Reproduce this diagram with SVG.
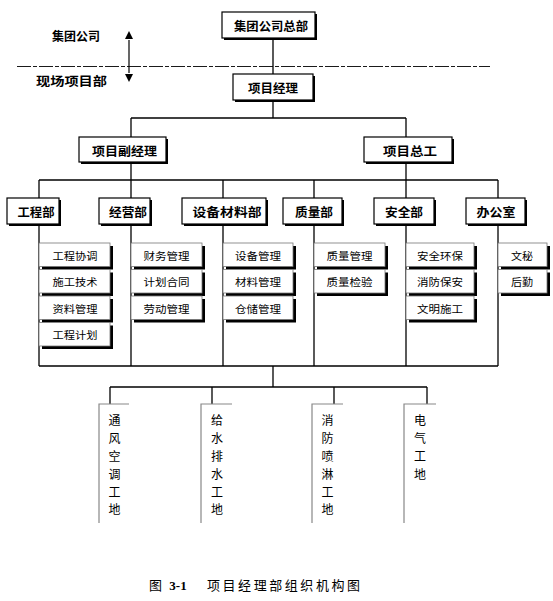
<svg xmlns="http://www.w3.org/2000/svg" width="553" height="601" viewBox="0 0 553 601">
<defs>
<style>
.bg{fill:#fff}
.box{fill:#fff;stroke:#000;stroke-width:1.2}
.sh{fill:#000}
.sub{fill:#fff;stroke:#777;stroke-width:0.8}
.ln{stroke:#000;stroke-width:1.3;fill:none}
.site{stroke:#888;stroke-width:1.2;fill:none}
.dash{stroke:#000;stroke-width:0.9;fill:none;stroke-dasharray:14 2 4 2}
text{font-family:"Noto Sans CJK SC","Noto Sans",sans-serif;fill:#000;dominant-baseline:central;text-anchor:middle}
.t1{font-size:12px;font-weight:bold}
.t2{font-size:10.5px}
.t3{font-size:12px}
.cap{font-family:"Liberation Serif","Noto Sans CJK SC",serif;font-size:13px}
</style>
<marker id="ah" viewBox="0 0 10 10" refX="10" refY="5" markerWidth="7" markerHeight="7" orient="auto" markerUnits="userSpaceOnUse">
<path d="M0,0 L10,5 L0,10 z" fill="#000"/>
</marker>
</defs>
<rect class="bg" x="0" y="0" width="553" height="601"/>

<g id="scope">
<text class="t1" x="76" y="35" font-size="11" textLength="48" lengthAdjust="spacingAndGlyphs">集团公司</text>
<text class="t1" x="71.5" y="80" font-size="11" textLength="71" lengthAdjust="spacingAndGlyphs">现场项目部</text>
<line class="dash" x1="17" y1="66.5" x2="490" y2="66.5"/>
<line x1="129" y1="40" x2="129" y2="73" stroke="#000" stroke-width="1.2"/>
<path d="M125,39 L133,39 L129,31 z" fill="#000"/>
<path d="M125,74 L133,74 L129,82 z" fill="#000"/>
</g>

<g id="connectors">
<line class="ln" x1="273" y1="38" x2="273" y2="118"/>
<line class="ln" x1="131" y1="118" x2="406" y2="118"/>
<line class="ln" x1="131" y1="118" x2="131" y2="180"/>
<line class="ln" x1="406" y1="118" x2="406" y2="180"/>
<line class="ln" x1="39" y1="180" x2="498" y2="180"/>
<line class="ln" x1="39" y1="180" x2="39" y2="366"/>
<line class="ln" x1="131" y1="180" x2="131" y2="366"/>
<line class="ln" x1="223" y1="180" x2="223" y2="366"/>
<line class="ln" x1="314" y1="180" x2="314" y2="366"/>
<line class="ln" x1="406" y1="180" x2="406" y2="366"/>
<line class="ln" x1="498" y1="180" x2="498" y2="366"/>
<line class="ln" x1="39" y1="366" x2="498" y2="366"/>
<line class="ln" x1="273" y1="366" x2="273" y2="387"/>
<line class="ln" x1="110" y1="387" x2="427" y2="387"/>
<line class="ln" x1="110" y1="387" x2="110" y2="404"/>
<line class="ln" x1="212" y1="387" x2="212" y2="404"/>
<line class="ln" x1="334" y1="387" x2="334" y2="404"/>
<line class="ln" x1="427" y1="387" x2="427" y2="404"/>
</g>

<g id="hq">
<rect class="sh" x="224" y="14" width="93" height="26"/>
<rect class="box" x="222" y="12" width="93" height="26"/>
<text class="t1" x="271" y="25" font-size="11" font-weight="normal" textLength="74" lengthAdjust="spacingAndGlyphs" style="font-weight:600">集团公司总部</text>
</g>
<g id="pm">
<rect class="sh" x="235" y="76" width="80" height="26"/>
<rect class="box" x="233" y="74" width="80" height="26"/>
<text class="t1" x="273" y="87" textLength="50" lengthAdjust="spacingAndGlyphs">项目经理</text>
</g>
<g id="dpm">
<rect class="sh" x="81" y="139" width="87" height="25"/>
<rect class="box" x="79" y="137" width="87" height="25"/>
<text class="t1" x="124.5" y="150" textLength="65" lengthAdjust="spacingAndGlyphs">项目副经理</text>
</g>
<g id="ce">
<rect class="sh" x="366" y="139" width="88" height="25"/>
<rect class="box" x="364" y="137" width="88" height="25"/>
<text class="t1" x="410" y="150" textLength="54" lengthAdjust="spacingAndGlyphs">项目总工</text>
</g>

<g id="d1">
<rect class="sh" x="9" y="200" width="52" height="26"/>
<rect class="box" x="7" y="198" width="52" height="26"/>
<text class="t1" x="36" y="211" textLength="37" lengthAdjust="spacingAndGlyphs">工程部</text>
</g>
<g id="d2">
<rect class="sh" x="101" y="200" width="51" height="26"/>
<rect class="box" x="99" y="198" width="51" height="26"/>
<text class="t1" x="128" y="211" textLength="38" lengthAdjust="spacingAndGlyphs">经营部</text>
</g>
<g id="d3">
<rect class="sh" x="184" y="200" width="84" height="26"/>
<rect class="box" x="182" y="198" width="84" height="26"/>
<text class="t1" x="227" y="211" textLength="69" lengthAdjust="spacingAndGlyphs">设备材料部</text>
</g>
<g id="d4">
<rect class="sh" x="285" y="200" width="59" height="26"/>
<rect class="box" x="283" y="198" width="59" height="26"/>
<text class="t1" x="314" y="211" textLength="38" lengthAdjust="spacingAndGlyphs">质量部</text>
</g>
<g id="d5">
<rect class="sh" x="376" y="200" width="60" height="26"/>
<rect class="box" x="374" y="198" width="60" height="26"/>
<text class="t1" x="404" y="211" textLength="38" lengthAdjust="spacingAndGlyphs">安全部</text>
</g>
<g id="d6">
<rect class="sh" x="468" y="200" width="59" height="26"/>
<rect class="box" x="466" y="198" width="59" height="26"/>
<text class="t1" x="496" y="211" textLength="39" lengthAdjust="spacingAndGlyphs">办公室</text>
</g>

<g id="s1">
<rect class="sh" x="42" y="246" width="71" height="23.5"/><rect class="sub" x="39" y="243" width="71" height="23.5"/><text class="t2" x="75" y="255" textLength="45" lengthAdjust="spacingAndGlyphs">工程协调</text>
<rect class="sh" x="42" y="272.5" width="71" height="23.5"/><rect class="sub" x="39" y="269.5" width="71" height="23.5"/><text class="t2" x="75" y="281.5" textLength="45" lengthAdjust="spacingAndGlyphs">施工技术</text>
<rect class="sh" x="42" y="299" width="71" height="23.5"/><rect class="sub" x="39" y="296" width="71" height="23.5"/><text class="t2" x="75" y="308" textLength="45" lengthAdjust="spacingAndGlyphs">资料管理</text>
<rect class="sh" x="42" y="325.5" width="71" height="23.5"/><rect class="sub" x="39" y="322.5" width="71" height="23.5"/><text class="t2" x="75" y="334.5" textLength="45" lengthAdjust="spacingAndGlyphs">工程计划</text>
</g>
<g id="s2">
<rect class="sh" x="134" y="246" width="71" height="23.5"/><rect class="sub" x="131" y="243" width="71" height="23.5"/><text class="t2" x="166.5" y="255" textLength="46" lengthAdjust="spacingAndGlyphs">财务管理</text>
<rect class="sh" x="134" y="272.5" width="71" height="23.5"/><rect class="sub" x="131" y="269.5" width="71" height="23.5"/><text class="t2" x="166.5" y="281.5" textLength="46" lengthAdjust="spacingAndGlyphs">计划合同</text>
<rect class="sh" x="134" y="299" width="71" height="23.5"/><rect class="sub" x="131" y="296" width="71" height="23.5"/><text class="t2" x="166.5" y="308" textLength="46" lengthAdjust="spacingAndGlyphs">劳动管理</text>
</g>
<g id="s3">
<rect class="sh" x="226" y="246" width="70" height="23.5"/><rect class="sub" x="223" y="243" width="70" height="23.5"/><text class="t2" x="258" y="255" textLength="46" lengthAdjust="spacingAndGlyphs">设备管理</text>
<rect class="sh" x="226" y="272.5" width="70" height="23.5"/><rect class="sub" x="223" y="269.5" width="70" height="23.5"/><text class="t2" x="258" y="281.5" textLength="46" lengthAdjust="spacingAndGlyphs">材料管理</text>
<rect class="sh" x="226" y="299" width="70" height="23.5"/><rect class="sub" x="223" y="296" width="70" height="23.5"/><text class="t2" x="258" y="308" textLength="46" lengthAdjust="spacingAndGlyphs">仓储管理</text>
</g>
<g id="s4">
<rect class="sh" x="317" y="246" width="71" height="23.5"/><rect class="sub" x="314" y="243" width="71" height="23.5"/><text class="t2" x="349.5" y="255" textLength="46" lengthAdjust="spacingAndGlyphs">质量管理</text>
<rect class="sh" x="317" y="272.5" width="71" height="23.5"/><rect class="sub" x="314" y="269.5" width="71" height="23.5"/><text class="t2" x="349.5" y="281.5" textLength="46" lengthAdjust="spacingAndGlyphs">质量检验</text>
</g>
<g id="s5">
<rect class="sh" x="409" y="246" width="68" height="23.5"/><rect class="sub" x="406" y="243" width="68" height="23.5"/><text class="t2" x="440" y="255" textLength="46" lengthAdjust="spacingAndGlyphs">安全环保</text>
<rect class="sh" x="409" y="272.5" width="68" height="23.5"/><rect class="sub" x="406" y="269.5" width="68" height="23.5"/><text class="t2" x="440" y="281.5" textLength="46" lengthAdjust="spacingAndGlyphs">消防保安</text>
<rect class="sh" x="409" y="299" width="68" height="23.5"/><rect class="sub" x="406" y="296" width="68" height="23.5"/><text class="t2" x="440" y="308" textLength="46" lengthAdjust="spacingAndGlyphs">文明施工</text>
</g>
<g id="s6">
<rect class="sh" x="501" y="246" width="49" height="23.5"/><rect class="sub" x="498" y="243" width="49" height="23.5"/><text class="t2" x="522" y="255" textLength="22" lengthAdjust="spacingAndGlyphs">文秘</text>
<rect class="sh" x="501" y="272.5" width="49" height="23.5"/><rect class="sub" x="498" y="269.5" width="49" height="23.5"/><text class="t2" x="522" y="281.5" textLength="22" lengthAdjust="spacingAndGlyphs">后勤</text>
</g>

<g id="site1">
<path class="site" d="M129,404 H99 V523"/>
<text class="t3" x="114.5" y="419">通</text><text class="t3" x="114.5" y="437">风</text><text class="t3" x="114.5" y="455">空</text><text class="t3" x="114.5" y="473">调</text><text class="t3" x="114.5" y="491">工</text><text class="t3" x="114.5" y="508">地</text>
</g>
<g id="site2">
<path class="site" d="M232,404 H201 V523"/>
<text class="t3" x="217" y="419">给</text><text class="t3" x="217" y="437">水</text><text class="t3" x="217" y="455">排</text><text class="t3" x="217" y="473">水</text><text class="t3" x="217" y="491">工</text><text class="t3" x="217" y="508">地</text>
</g>
<g id="site3">
<path class="site" d="M343,404 H312 V523"/>
<text class="t3" x="327.5" y="419">消</text><text class="t3" x="327.5" y="437">防</text><text class="t3" x="327.5" y="455">喷</text><text class="t3" x="327.5" y="473">淋</text><text class="t3" x="327.5" y="491">工</text><text class="t3" x="327.5" y="508">地</text>
</g>
<g id="site4">
<path class="site" d="M436,404 H404 V523"/>
<text class="t3" x="420" y="419">电</text><text class="t3" x="420" y="437">气</text><text class="t3" x="420" y="455">工</text><text class="t3" x="420" y="473">地</text>
</g>

<g id="caption">
<text class="cap" x="155.5" y="585">图</text>
<text class="cap" x="178" y="585" font-weight="bold">3-1</text>
<text class="cap" x="283.5" y="585" textLength="153" lengthAdjust="spacing">项目经理部组织机构图</text>
</g>
</svg>
